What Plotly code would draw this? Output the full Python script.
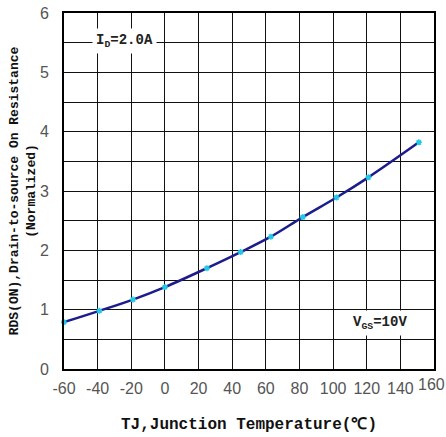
import plotly.graph_objects as go

temp_c = [-60, -39, -19, 0, 25, 45, 63, 82, 102, 121, 151]
rds_norm = [0.79, 0.98, 1.17, 1.38, 1.70, 1.97, 2.23, 2.56, 2.89, 3.23, 3.82]

x_ticks = [-60, -40, -20, 0, 20, 40, 60, 80, 100, 120, 140, 160]
x_labels = ["-60", "-40", "-20", "0", "20", "40", "60", "80", "100", "120", "140", ""]
y_ticks = [0, 1, 2, 3, 4, 5, 6]
tick_font = dict(family="Liberation Sans", size=16, color="#555555")

fig = go.Figure()
fig.add_trace(go.Scatter(
    x=temp_c, y=rds_norm, mode="lines+markers",
    line=dict(color="#1c1c8c", width=2.5, shape="spline"),
    marker=dict(symbol="asterisk-open", size=5, color="#22c8e8",
                line=dict(color="#22c8e8", width=1.5)),
    showlegend=False, cliponaxis=False,
))

grid = dict(showgrid=True, gridcolor="#111111", gridwidth=1.3,
            showline=True, linecolor="#000000", linewidth=2, mirror=True,
            zeroline=False, ticks="", automargin=False, ticklabeloverflow="allow",
            tickfont=tick_font)

fig.update_xaxes(range=[-60, 160], tickvals=x_ticks, ticktext=x_labels, ticklabelstandoff=4, **grid,
                 title=dict(text="TJ,Junction Temperature(℃)",
                            font=dict(family="Liberation Mono", size=16, color="#111111", weight="bold"),
                            standoff=22))
fig.update_yaxes(range=[0, 6], tickvals=y_ticks, ticklabelstandoff=10, **grid,
                 minor=dict(dtick=0.5, showgrid=True, gridcolor="#111111", gridwidth=1.3),
                 title=dict(text="RDS(ON),Drain-to-source On Resistance<br>(Normalized)",
                            font=dict(family="Liberation Mono", size=13, color="#111111", weight="bold"),
                            standoff=1))

# last x tick label (drawn as annotation so it is not hidden at the page edge)
fig.add_annotation(x=x_ticks[-1], y=0, yanchor="top", yshift=-5, xshift=-3,
                   text=str(x_ticks[-1]), showarrow=False, font=tick_font)

fig.add_annotation(x=-24, y=5.53, text="I<sub>D</sub>=2.0A", showarrow=False,
                   bgcolor="white", borderpad=3,
                   font=dict(family="Liberation Mono", size=14, color="#222222", weight="bold"))
fig.add_annotation(x=128, y=0.78, text="V<sub>GS</sub>=10V", showarrow=False,
                   bgcolor="white", borderpad=3,
                   font=dict(family="Liberation Mono", size=14, color="#222222", weight="bold"))

fig.update_layout(width=446, height=437, paper_bgcolor="white", plot_bgcolor="white",
                  margin=dict(l=64, r=12, t=13, b=68))
fig.write_html("out.html", config={"displayModeBar": False},
               post_script="document.body.style.margin='0px';")
